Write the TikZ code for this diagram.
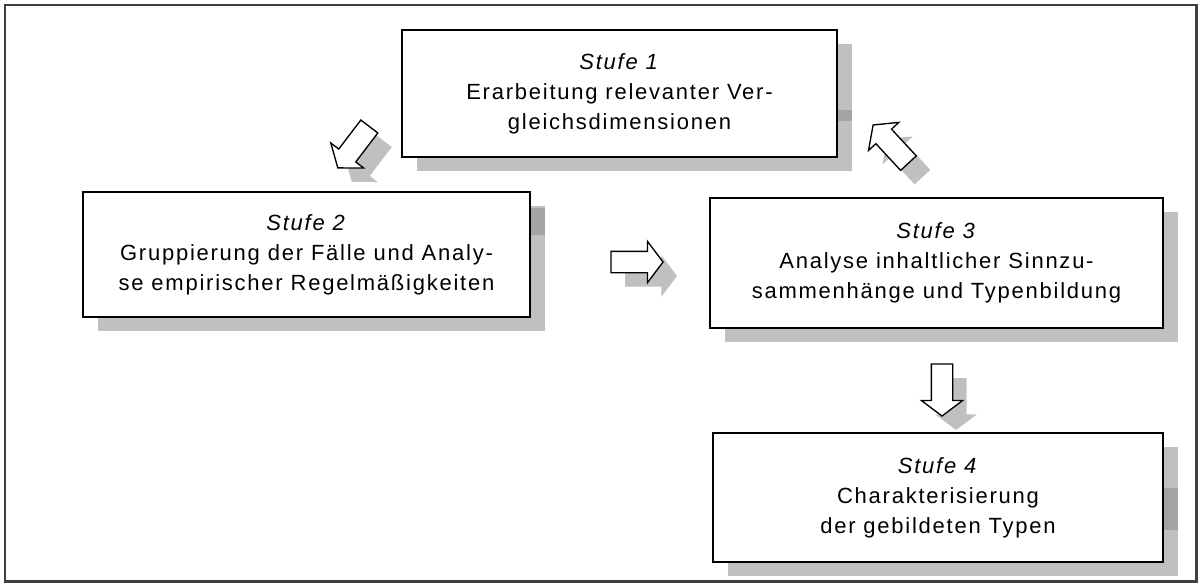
\documentclass[tikz,border=0pt]{standalone}
\usepackage{fontspec}
\setmainfont{Liberation Sans}[LetterSpace=8]
\usetikzlibrary{shapes.arrows,shadows}
\definecolor{schatten}{HTML}{C0C0C0}
\definecolor{band}{HTML}{A4A4A4}
\definecolor{rahmen}{HTML}{404040}
\tikzset{
  stufe/.style={draw=black, line width=1.2pt, fill=white, align=center, inner sep=0pt,
    font=\fontsize{16.5}{22.5}\selectfont,
    drop shadow={shadow xshift=11.25pt, shadow yshift=-10.5pt, fill=schatten, opacity=1}},
  pfeil/.style={single arrow, draw=black, line width=1pt, fill=white, inner sep=7.5pt,
    minimum height=39pt, minimum width=30pt, single arrow head extend=7.5pt,
    single arrow tip angle=106,
    drop shadow={shadow xshift=10.5pt, shadow yshift=-10.5pt, fill=schatten, opacity=1}}
}
\def\stufenode{\node[stufe]}
\def\pfeilnode{\node[pfeil]}

\begin{document}
\begin{tikzpicture}[x=0.75pt,y=-0.75pt]
\useasboundingbox (0,0) rectangle (1198,583);
\draw[rahmen, line width=1.6pt] (5,5) rectangle (1196.5,581.5);
% Stufen
\stufenode[minimum width=326.25pt, minimum height=95.25pt] (s1) at (619.5,93.5)
  {\textit{Stufe 1}\\Erarbeitung relevanter Ver-\\gleichsdimensionen};
\stufenode[minimum width=335.25pt, minimum height=93.75pt] (s2) at (306.5,254.5)
  {\textit{Stufe 2}\\Gruppierung der Fälle und Analy-\\se empirischer Regelmäßigkeiten};
\stufenode[minimum width=339.75pt, minimum height=97.5pt] (s3) at (936.5,263)
  {\textit{Stufe 3}\\Analyse inhaltlicher Sinnzu-\\sammenhänge und Typenbildung};
\stufenode[minimum width=337.5pt, minimum height=96.75pt] (s4) at (938,497.5)
  {\textit{Stufe 4}\\Charakterisierung\\der gebildeten Typen};
\fill[band] (838,110) rectangle (852,121);
\fill[band] (531,208) rectangle (545,235);
\fill[band] (1164,488) rectangle (1178,530);
% Pfeile
\pfeilnode[rotate=232.7] (p12) at (356,144) {};
\pfeilnode (p23) at (633,262) {};
\pfeilnode[rotate=132.8] (p31) at (893.5,147) {};
\pfeilnode[rotate=-90] (p34) at (942,386) {};
\end{tikzpicture}
\end{document}
